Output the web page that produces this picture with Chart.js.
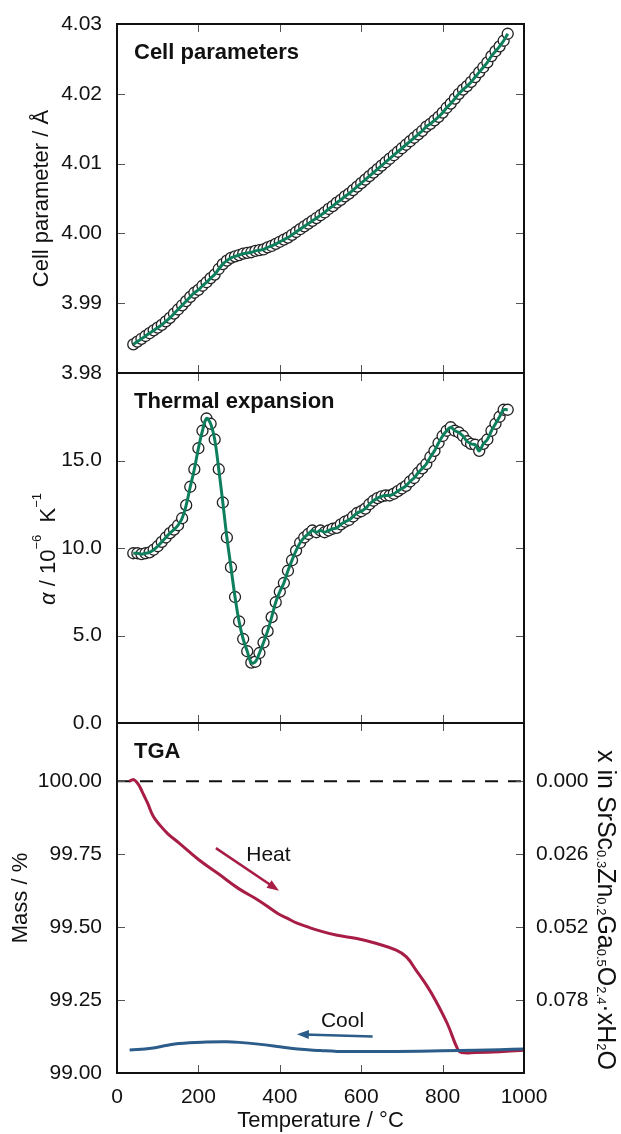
<!DOCTYPE html>
<html>
<head>
<meta charset="utf-8">
<script src="https://cdn.jsdelivr.net/npm/chart.js@4.4.0/dist/chart.umd.min.js"></script>
<style>
body { margin: 0; background: #fff; }
#wrap { position: relative; width: 621px; height: 1134px; }
#wrap canvas { position: absolute; left: 0; top: 0; }
</style>
</head>
<body>
<div id="wrap">
  <canvas id="tga" width="621" height="1134"></canvas>
  <canvas id="alpha" width="621" height="1134"></canvas>
  <canvas id="cell" width="621" height="1134"></canvas>
</div>
<script>
// temperatures of the diffraction points (°C)
const temps = [40,50,60,70,80,90,100,110,120,130,140,150,160,170,180,190,200,210,220,230,
  240,250,260,270,280,290,300,310,320,330,340,350,360,370,380,390,400,410,420,430,
  440,450,460,470,480,490,500,510,520,530,540,550,560,570,580,590,600,610,620,630,
  640,650,660,670,680,690,700,710,720,730,740,750,760,770,780,790,800,810,820,830,
  840,850,860,870,880,890,900,910,920,930,940,950,960];

// cell parameter (Å)
const cellParam = [3.9841,3.9845,3.9849,3.9853,3.9857,3.9861,3.9865,3.9869,3.9874,3.9879,
  3.9885,3.9891,3.9897,3.9903,3.9909,3.9915,3.9919,3.9925,3.9930,3.9936,
  3.9941,3.9949,3.9956,3.9961,3.9965,3.9967,3.9969,3.9971,3.9972,3.9973,
  3.9975,3.9976,3.9977,3.9980,3.9982,3.9985,3.9988,3.9991,3.9994,3.9998,
  4.0002,4.0006,4.0010,4.0014,4.0018,4.0022,4.0026,4.0030,4.0035,4.0039,
  4.0044,4.0048,4.0053,4.0057,4.0062,4.0067,4.0072,4.0077,4.0082,4.0087,
  4.0092,4.0097,4.0102,4.0107,4.0112,4.0117,4.0122,4.0127,4.0132,4.0137,
  4.0142,4.0147,4.0153,4.0157,4.0162,4.0167,4.0173,4.0180,4.0186,4.0193,
  4.0200,4.0206,4.0211,4.0217,4.0224,4.0231,4.0238,4.0245,4.0254,4.0261,
  4.0268,4.0276,4.0286];

// thermal expansion coefficient (10^-6 K^-1)
const alpha = [9.7,9.7,9.65,9.7,9.75,9.9,10.1,10.35,10.6,10.85,
  11.05,11.3,11.7,12.45,13.5,14.5,15.7,16.7,17.4,17.1,
  16.2,14.5,12.6,10.6,8.9,7.2,5.8,4.8,4.1,3.45,
  3.5,4.0,4.6,5.25,6.05,6.9,7.5,8.0,8.7,9.3,
  9.85,10.3,10.6,10.8,11.0,10.9,11.0,10.9,11.0,11.1,
  11.15,11.35,11.5,11.6,11.8,12.0,12.1,12.25,12.5,12.7,
  12.85,12.95,13.0,13.0,13.1,13.25,13.4,13.55,13.8,14.0,
  14.3,14.55,14.8,15.2,15.55,16.0,16.4,16.7,16.9,16.7,
  16.6,16.4,16.1,15.95,15.9,15.55,15.95,16.2,16.7,17.1,
  17.5,17.9,17.9];

// TGA heating and cooling traces
const heatTemp = [30,36,41,48,55,65,75,89,104,125,152,201,250,298,350,395,420,444,470,492,
  541,589,638,686,711,735,760,783,812,837,847,881,940,1000];
const heatMass = [100.000,100.004,100.006,99.998,99.984,99.955,99.926,99.880,99.852,99.820,
  99.789,99.731,99.682,99.633,99.590,99.547,99.529,99.513,99.500,99.490,
  99.472,99.461,99.444,99.421,99.398,99.352,99.302,99.248,99.168,99.082,
  99.070,99.070,99.073,99.078];
const coolTemp = [1000,940,881,800,686,600,541,500,444,400,347,300,269,220,152,120,84,31];
const coolMass = [99.082,99.080,99.078,99.076,99.074,99.074,99.074,99.077,99.082,99.090,
  99.099,99.105,99.107,99.106,99.101,99.094,99.085,99.079];
const refTemp = [0,1000];
const refMass = [100,100];

// tick labels
const xTicks = [0,200,400,600,800,1000];
const cellTicks = [3.98,3.99,4.00,4.01,4.02,4.03];
const alphaTicks = [0,5,10,15,20];
const massTicks = [99.00,99.25,99.50,99.75,100.00];
const waterTicks = [0.000,0.026,0.052,0.078];

const FONT = "'Liberation Sans', Arial, Helvetica, sans-serif";
Chart.defaults.font.family = FONT;
Chart.defaults.font.size = 21;
Chart.defaults.color = '#111';

const GREEN = '#0d7f5c', HEAT = '#a81d45', COOL = '#2b5c8a';

function pts(xs, ys) { return xs.map((x, i) => ({x: x, y: ys[i]})); }
function useTicks(list) { return scale => { scale.ticks = list.map(v => ({value: v})); }; }

// box round the plot, inward tick marks, bold panel heading
const framePlugin = {
  id: 'frame',
  afterDatasetsDraw(chart) {
    const {ctx, chartArea: a, scales} = chart;
    const x = scales.x, y = scales.y;
    ctx.save();
    ctx.strokeStyle = '#555';
    ctx.lineWidth = 1;
    ctx.beginPath();
    xTicks.forEach(v => {
      if (v <= x.min || v >= x.max) return;
      const px = Math.round(x.getPixelForValue(v)) + 0.5;
      ctx.moveTo(px, a.top); ctx.lineTo(px, a.top + 8);
      ctx.moveTo(px, a.bottom); ctx.lineTo(px, a.bottom - 8);
    });
    y.ticks.forEach(t => {
      if (t.value <= y.min || t.value >= y.max) return;
      const py = Math.round(y.getPixelForValue(t.value)) + 0.5;
      ctx.moveTo(a.left, py); ctx.lineTo(a.left + 8, py);
      ctx.moveTo(a.right, py); ctx.lineTo(a.right - 8, py);
    });
    ctx.stroke();
    ctx.strokeStyle = '#111';
    ctx.lineWidth = 2;
    ctx.strokeRect(a.left, a.top, a.right - a.left, a.bottom - a.top);
    const o = chart.options.plugins.frame;
    if (o && o.title) {
      ctx.font = 'bold 22px ' + FONT;
      ctx.fillStyle = '#111';
      ctx.textAlign = 'left';
      ctx.textBaseline = 'alphabetic';
      ctx.fillText(o.title, a.left + 17, a.top + 35);
    }
    ctx.restore();
  }
};

// rotated axis titles with italic / super / subscript parts
const richTitlePlugin = {
  id: 'richTitle',
  afterDraw(chart) {
    const o = chart.options.plugins.richTitle;
    if (!o) return;
    const ctx = chart.ctx;
    const fontOf = s => (s.italic ? 'italic ' : '') + Math.round(o.size * (s.scale || 1)) + 'px ' + FONT;
    ctx.save();
    ctx.translate(o.x, o.y);
    ctx.rotate(o.rot);
    ctx.fillStyle = '#111';
    ctx.textAlign = 'left';
    ctx.textBaseline = 'alphabetic';
    let total = 0;
    const widths = o.segs.map(s => { ctx.font = fontOf(s); const w = ctx.measureText(s.t).width; total += w; return w; });
    let cx = -total / 2;
    o.segs.forEach((s, i) => {
      ctx.font = fontOf(s);
      ctx.fillText(s.t, cx, (s.dy || 0) * o.size);
      cx += widths[i];
    });
    ctx.restore();
  }
};

// Heat / Cool labels and arrows
const tgaNotes = {
  id: 'tgaNotes',
  afterDatasetsDraw(chart) {
    const {ctx, scales: {x, y}} = chart;
    const notes = chart.options.plugins.tgaNotes.items;
    ctx.save();
    notes.forEach(n => {
      const X0 = x.getPixelForValue(n.from[0]), Y0 = y.getPixelForValue(n.from[1]);
      const X1 = x.getPixelForValue(n.to[0]), Y1 = y.getPixelForValue(n.to[1]);
      const ang = Math.atan2(Y1 - Y0, X1 - X0), c = Math.cos(ang), s = Math.sin(ang);
      ctx.strokeStyle = n.color;
      ctx.fillStyle = n.color;
      ctx.lineWidth = 2.5;
      ctx.beginPath();
      ctx.moveTo(X0, Y0);
      ctx.lineTo(X1 - 7 * c, Y1 - 7 * s);
      ctx.stroke();
      ctx.beginPath();
      ctx.moveTo(X1, Y1);
      ctx.lineTo(X1 - 12 * c + 4.5 * s, Y1 - 12 * s - 4.5 * c);
      ctx.lineTo(X1 - 12 * c - 4.5 * s, Y1 - 12 * s + 4.5 * c);
      ctx.closePath();
      ctx.fill();
      ctx.fillStyle = '#111';
      ctx.font = '21px ' + FONT;
      ctx.textAlign = 'center';
      ctx.textBaseline = 'middle';
      ctx.fillText(n.text, x.getPixelForValue(n.at[0]), y.getPixelForValue(n.at[1]));
    });
    ctx.restore();
  }
};

const noPlug = { legend: {display: false}, tooltip: {enabled: false} };
const hiddenX = { type: 'linear', display: false, min: 0, max: 1000 };

function pointSet(xs, ys) {
  return { data: pts(xs, ys), showLine: false, pointRadius: 5.5, pointBorderColor: '#222',
           pointBackgroundColor: '#fff', pointBorderWidth: 1.3, order: 2 };
}
function fitSet(xs, ys) {
  return { data: pts(xs, ys), borderColor: GREEN, borderWidth: 3, pointRadius: 0,
           tension: 0.4, order: 1 };
}

// top panel: cell parameter
new Chart(document.getElementById('cell'), {
  type: 'line',
  data: { datasets: [fitSet(temps, cellParam), pointSet(temps, cellParam)] },
  options: {
    responsive: false, animation: false, events: [],
    layout: { padding: { left: 25, right: 97, top: 24, bottom: 761 } },
    plugins: Object.assign({ frame: { title: 'Cell parameters' } }, noPlug),
    scales: {
      x: hiddenX,
      y: {
        min: 3.98, max: 4.03,
        afterBuildTicks: useTicks(cellTicks),
        afterFit: s => { s.width = 92; },
        grid: { display: false }, border: { display: false },
        ticks: { padding: 7, callback: v => v.toFixed(2) },
        title: { display: true, text: 'Cell parameter / Å', font: { size: 22 }, padding: { top: 4, bottom: 4 } }
      }
    }
  },
  plugins: [framePlugin]
});

// middle panel: thermal expansion
new Chart(document.getElementById('alpha'), {
  type: 'line',
  data: { datasets: [fitSet(temps, alpha), pointSet(temps, alpha)] },
  options: {
    responsive: false, animation: false, events: [],
    layout: { padding: { left: 0, right: 97, top: 373, bottom: 411 } },
    plugins: Object.assign({
      frame: { title: 'Thermal expansion' },
      richTitle: {
        x: 55, y: 549, rot: -Math.PI / 2, size: 22,
        segs: [ {t: 'α', italic: true}, {t: ' / 10'}, {t: '−6', scale: 0.6, dy: -0.62},
                {t: '  K'}, {t: '−1', scale: 0.6, dy: -0.62} ]
      }
    }, noPlug),
    scales: {
      x: hiddenX,
      y: {
        min: 0, max: 20,
        afterBuildTicks: useTicks(alphaTicks),
        afterFit: s => { s.width = 117; },
        grid: { display: false }, border: { display: false },
        ticks: { padding: 7, callback: v => (v === 20 ? '' : v.toFixed(1)) }
      }
    }
  },
  plugins: [framePlugin, richTitlePlugin]
});

// bottom panel: TGA
new Chart(document.getElementById('tga'), {
  type: 'line',
  data: {
    datasets: [
      { data: pts(coolTemp, coolMass), borderColor: COOL, borderWidth: 3, pointRadius: 0, tension: 0.4, order: 1 },
      { data: pts(heatTemp, heatMass), borderColor: HEAT, borderWidth: 3, pointRadius: 0, tension: 0.4, order: 2 },
      { data: pts(refTemp, refMass), borderColor: '#111', borderWidth: 2, borderDash: [13, 10], pointRadius: 0, order: 3 }
    ]
  },
  options: {
    responsive: false, animation: false, events: [],
    layout: { padding: { left: 4, right: 0, top: 723, bottom: 0 } },
    plugins: Object.assign({
      frame: { title: 'TGA' },
      tgaNotes: { items: [
        { text: 'Heat', at: [372, 99.748], from: [243, 99.771], to: [398, 99.625], color: HEAT },
        { text: 'Cool', at: [554, 99.177], from: [628, 99.125], to: [442, 99.133], color: COOL }
      ] },
      richTitle: {
        x: 598, y: 910, rot: Math.PI / 2, size: 25,
        segs: [ {t: 'x in SrSc'}, {t: '0.3', scale: 0.52, dy: 0.05}, {t: 'Zn'}, {t: '0.2', scale: 0.52, dy: 0.05},
                {t: 'Ga'}, {t: '0.5', scale: 0.52, dy: 0.05}, {t: 'O'}, {t: '2.4', scale: 0.52, dy: 0.05},
                {t: '·xH'}, {t: '2', scale: 0.52, dy: 0.05}, {t: 'O'} ]
      }
    }, noPlug),
    scales: {
      x: {
        type: 'linear', min: 0, max: 1000,
        afterBuildTicks: useTicks(xTicks),
        afterFit: s => { s.height = 61; },
        grid: { display: false }, border: { display: false },
        ticks: { padding: 4, maxRotation: 0, callback: v => String(v) },
        title: { display: true, text: 'Temperature / °C', font: { size: 22 }, padding: { top: 0, bottom: 0 } }
      },
      y: {
        min: 99, max: 100.2,
        afterBuildTicks: useTicks(massTicks),
        afterFit: s => { s.width = 113; },
        grid: { display: false }, border: { display: false },
        ticks: { padding: 7, callback: v => v.toFixed(2) },
        title: { display: true, text: 'Mass / %', font: { size: 22 }, padding: { top: 4, bottom: 4 } }
      },
      yx: {
        position: 'right', reverse: true, min: -0.0208, max: 0.104,
        afterBuildTicks: useTicks(waterTicks),
        afterFit: s => { s.width = 97; },
        grid: { display: false }, border: { display: false },
        ticks: { padding: 4, callback: v => v.toFixed(3) }
      }
    }
  },
  plugins: [framePlugin, richTitlePlugin, tgaNotes]
});
</script>
</body>
</html>
